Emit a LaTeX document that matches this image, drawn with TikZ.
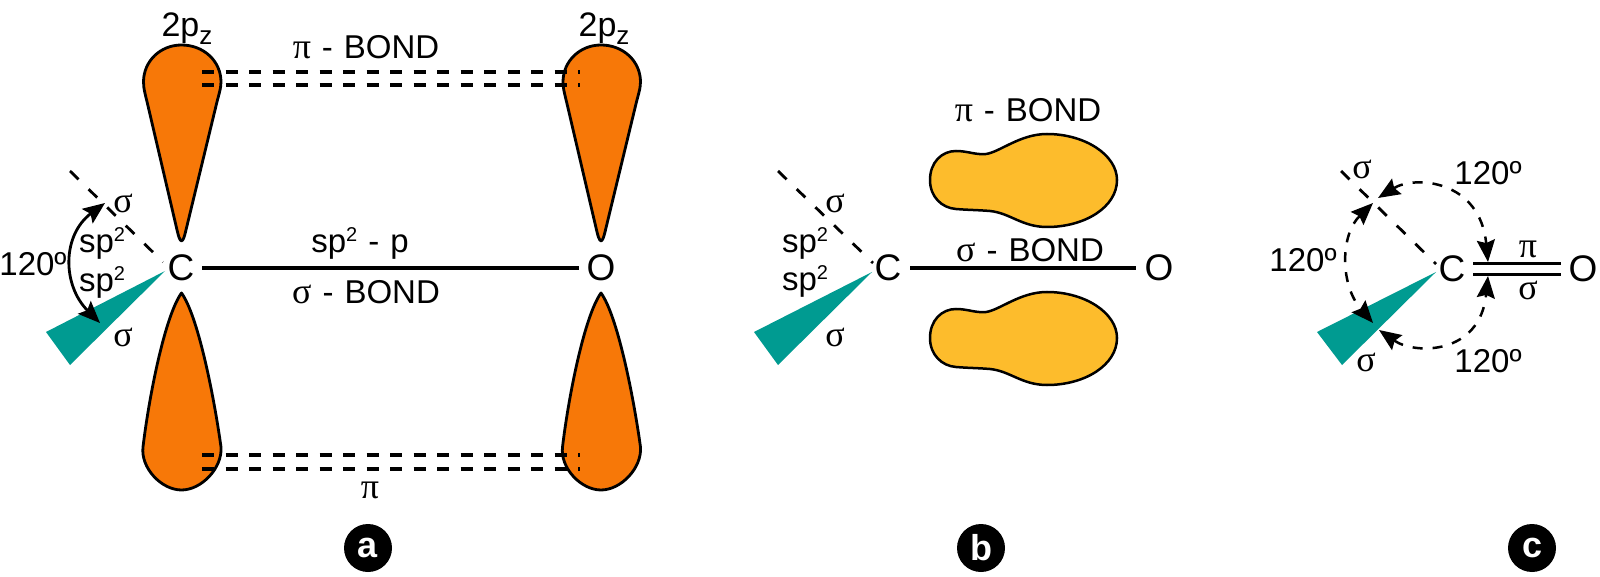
\documentclass[tikz,border=0pt]{standalone}
\usepackage{fontspec}
\setmainfont{Liberation Sans}
\newfontfamily\grk{Liberation Serif}
\usetikzlibrary{arrows.meta}
\definecolor{lobeor}{RGB}{247,120,8}
\definecolor{blobye}{RGB}{253,188,44}
\definecolor{wedge}{RGB}{0,155,145}
\newcommand{\txtsize}{\fontsize{33}{36}\selectfont}
\newcommand{\atomsize}{\fontsize{37}{40}\selectfont}
\newcommand{\sptxt}{sp\raisebox{11pt}{\fontsize{20}{20}\selectfont 2}}
\newcommand{\pis}{{\fontsize{36}{36}\selectfont\grk π}}
\newcommand{\sig}{{\fontsize{36}{36}\selectfont\grk σ}}
\newcommand{\dsh}{\hspace{11pt}-\hspace{11pt}}
\newcommand{\twopz}{{\fontsize{34}{36}\selectfont 2p\raisebox{-8pt}{\fontsize{26}{26}\selectfont z}}}
\newcommand{\lobepath}{(0,0) .. controls (-2,-1) and (-3,-5) .. (-4,-9) -- (-33,-133) .. controls (-36,-146) and (-38,-152) .. (-38,-159) .. controls (-38,-180) and (-21,-196) .. (0,-196) .. controls (22,-196) and (39.5,-180) .. (39.5,-159) .. controls (39.5,-152) and (37,-146) .. (34,-133) -- (4,-9) .. controls (3,-5) and (2,-1) .. (0,0) -- cycle}
\newcommand{\lobelow}{(0,0) .. controls (-16,22) and (-32,100) .. (-38.5,154) .. controls (-41,175) and (-20,197) .. (0,197) .. controls (20,197) and (41,175) .. (39.5,154) .. controls (32,100) and (16,22) .. (0,0) -- cycle}
\newcommand{\blobpath}{(930,180) .. controls (930,162) and (942,151) .. (956,151) .. controls (968,151) and (975,155) .. (986,154) .. controls (1000,152) and (1020,134) .. (1047,134) .. controls (1085,134) and (1117,155) .. (1117,180) .. controls (1117,207) and (1085,227) .. (1047,227) .. controls (1022,227) and (1010,213) .. (990,211) .. controls (978,210) and (968,210) .. (956,209) .. controls (942,208) and (930,197) .. (930,180) -- cycle}
\tikzset{
  lobe/.style={draw=black,fill=lobeor,line width=2.8pt,line join=round},
  blob/.style={draw=black,fill=blobye,line width=2.5pt},
  dashb/.style={black,line width=3.2pt,dash pattern=on 12pt off 11.5pt},
  dashs/.style={black,line width=2.8pt,dash pattern=on 12pt off 14pt},
  bondl/.style={black,line width=3.4pt},
  wedgef/.style={fill=wedge},
  txt/.style={inner sep=0pt,font=\txtsize},
  atom/.style={inner sep=0pt,font=\atomsize},
  tagc/.style={circle,fill=black,text=white,minimum size=48pt,inner sep=0pt,font=\fontsize{36}{36}\selectfont\bfseries},
  arcs/.style={black,line width=2.8pt,{Stealth[length=22pt,width=18pt,inset=4pt]}-{Stealth[length=22pt,width=18pt,inset=4pt]}},
  arcd/.style={black,line width=2.5pt,dash pattern=on 10pt off 10pt,{Stealth[length=22pt,width=18pt,inset=3pt]}-{Stealth[length=22pt,width=18pt,inset=3pt]}}
}
\begin{document}
\begin{tikzpicture}[x=1pt,y=-1pt]
\useasboundingbox[fill=white] (0,0) rectangle (1600,577);
% panel a
\draw[lobe,shift={(181.5,241)}] \lobepath;
\draw[lobe,shift={(601,241)}] \lobepath;
\draw[lobe,shift={(181.5,293)}] \lobelow;
\draw[lobe,shift={(601,293)}] \lobelow;
\coordinate (ua1) at (202,72); \coordinate (ub1) at (580,72);
\coordinate (ua2) at (202,85); \coordinate (ub2) at (580,85);
\coordinate (la1) at (202,455); \coordinate (lb1) at (580,455);
\coordinate (la2) at (202,469); \coordinate (lb2) at (580,469);
\draw[dashb] (ua1) -- (ub1);
\draw[dashb] (ua2) -- (ub2);
\draw[dashb] (la1) -- (lb1);
\draw[dashb] (la2) -- (lb2);
\node[atom] (Ca) at (181,268) {C};
\node[atom] (Oa) at (601,268) {O};
\draw[bondl,shorten <=7.6pt,shorten >=7.6pt] (Ca.east) -- (Oa.west);
\coordinate (sa0) at (70,171); \coordinate (sa1) at (163,262);
\draw[dashs] (sa0) -- (sa1);
\fill[wedgef] (165,271) -- (46,332) -- (70,365) -- cycle;
\coordinate (aa0) at (105,203); \coordinate (aa1) at (100,323);
\draw[arcs] (aa0) .. controls (62,235) and (62,285) .. (aa1);
\node[txt] (ta2l) at (187,29) {\twopz};
\node[txt] (ta2r) at (604,29) {\twopz};
\node[txt] (tapi) at (366,47) {\pis\dsh BOND};
\node[txt] (tasp) at (360,243) {\sptxt\dsh p};
\node[txt] (tasg) at (366,292) {\sig\dsh BOND};
\node[txt] (tapl) at (370,490) {\pis};
\node[txt] (ta120) at (33,264) {120º};
\node[txt] (tas1) at (102,243) {\sptxt};
\node[txt] (tas2) at (102,282) {\sptxt};
\node[txt] (tag1) at (123,203) {\sig};
\node[txt] (tag2) at (123,337) {\sig};
\node[tagc] (taga) at (368,548) {a};
% panel b
\draw[blob] \blobpath;
\draw[blob,shift={(0,158)}] \blobpath;
\node[atom] (Cb) at (888,268) {C};
\node[atom] (Ob) at (1159,268) {O};
\draw[bondl,shorten <=8.6pt,shorten >=8.6pt] (Cb.east) -- (Ob.west);
\coordinate (sb0) at (778,171); \coordinate (sb1) at (873,263);
\draw[dashs] (sb0) -- (sb1);
\fill[wedgef] (872,272) -- (754,332) -- (778,365) -- cycle;
\node[txt] (tbpi) at (1028,110) {\pis\dsh BOND};
\node[txt] (tbsg) at (1030,250) {\sig\dsh BOND};
\node[txt] (tbs1) at (805,243) {\sptxt};
\node[txt] (tbs2) at (805,281) {\sptxt};
\node[txt] (tbg1) at (835,203) {\sig};
\node[txt] (tbg2) at (835,337) {\sig};
\node[tagc] (tagb) at (981,548) {b};
% panel c
\node[atom] (Cc) at (1452,269) {C};
\node[atom] (Oc) at (1583,269) {O};
\draw[bondl,shorten <=7.6pt,shorten >=7.6pt] ([yshift=5.5pt]Cc.east) -- ([yshift=5.5pt]Oc.west);
\draw[bondl,shorten <=7.6pt,shorten >=7.6pt] ([yshift=-5.5pt]Cc.east) -- ([yshift=-5.5pt]Oc.west);
\coordinate (sc0) at (1341,171); \coordinate (sc1) at (1436,264);
\draw[dashs] (sc0) -- (sc1);
\fill[wedgef] (1436,272) -- (1317,332) -- (1342,365) -- cycle;
\coordinate (d1) at (1378,198); \coordinate (d2) at (1488,262);
\coordinate (d3) at (1373,203); \coordinate (d4) at (1373,323);
\coordinate (d5) at (1379,330); \coordinate (d6) at (1488,276);
\draw[arcd] (d1) .. controls (1415,175) and (1480,180) .. (d2);
\draw[arcd] (d3) .. controls (1340,235) and (1340,285) .. (d4);
\draw[arcd] (d5) .. controls (1415,355) and (1480,355) .. (d6);
\node[txt] (tc1) at (1488,173) {120º};
\node[txt] (tc2) at (1303,260) {120º};
\node[txt] (tc3) at (1488,361) {120º};
\node[txt] (tcg1) at (1362,169) {\sig};
\node[txt] (tcg2) at (1366,362) {\sig};
\node[txt] (tcpi) at (1528,249) {\pis};
\node[txt] (tcsg) at (1528,290) {\sig};
\node[tagc] (tagc1) at (1532,548) {c};
\end{tikzpicture}
\end{document}
